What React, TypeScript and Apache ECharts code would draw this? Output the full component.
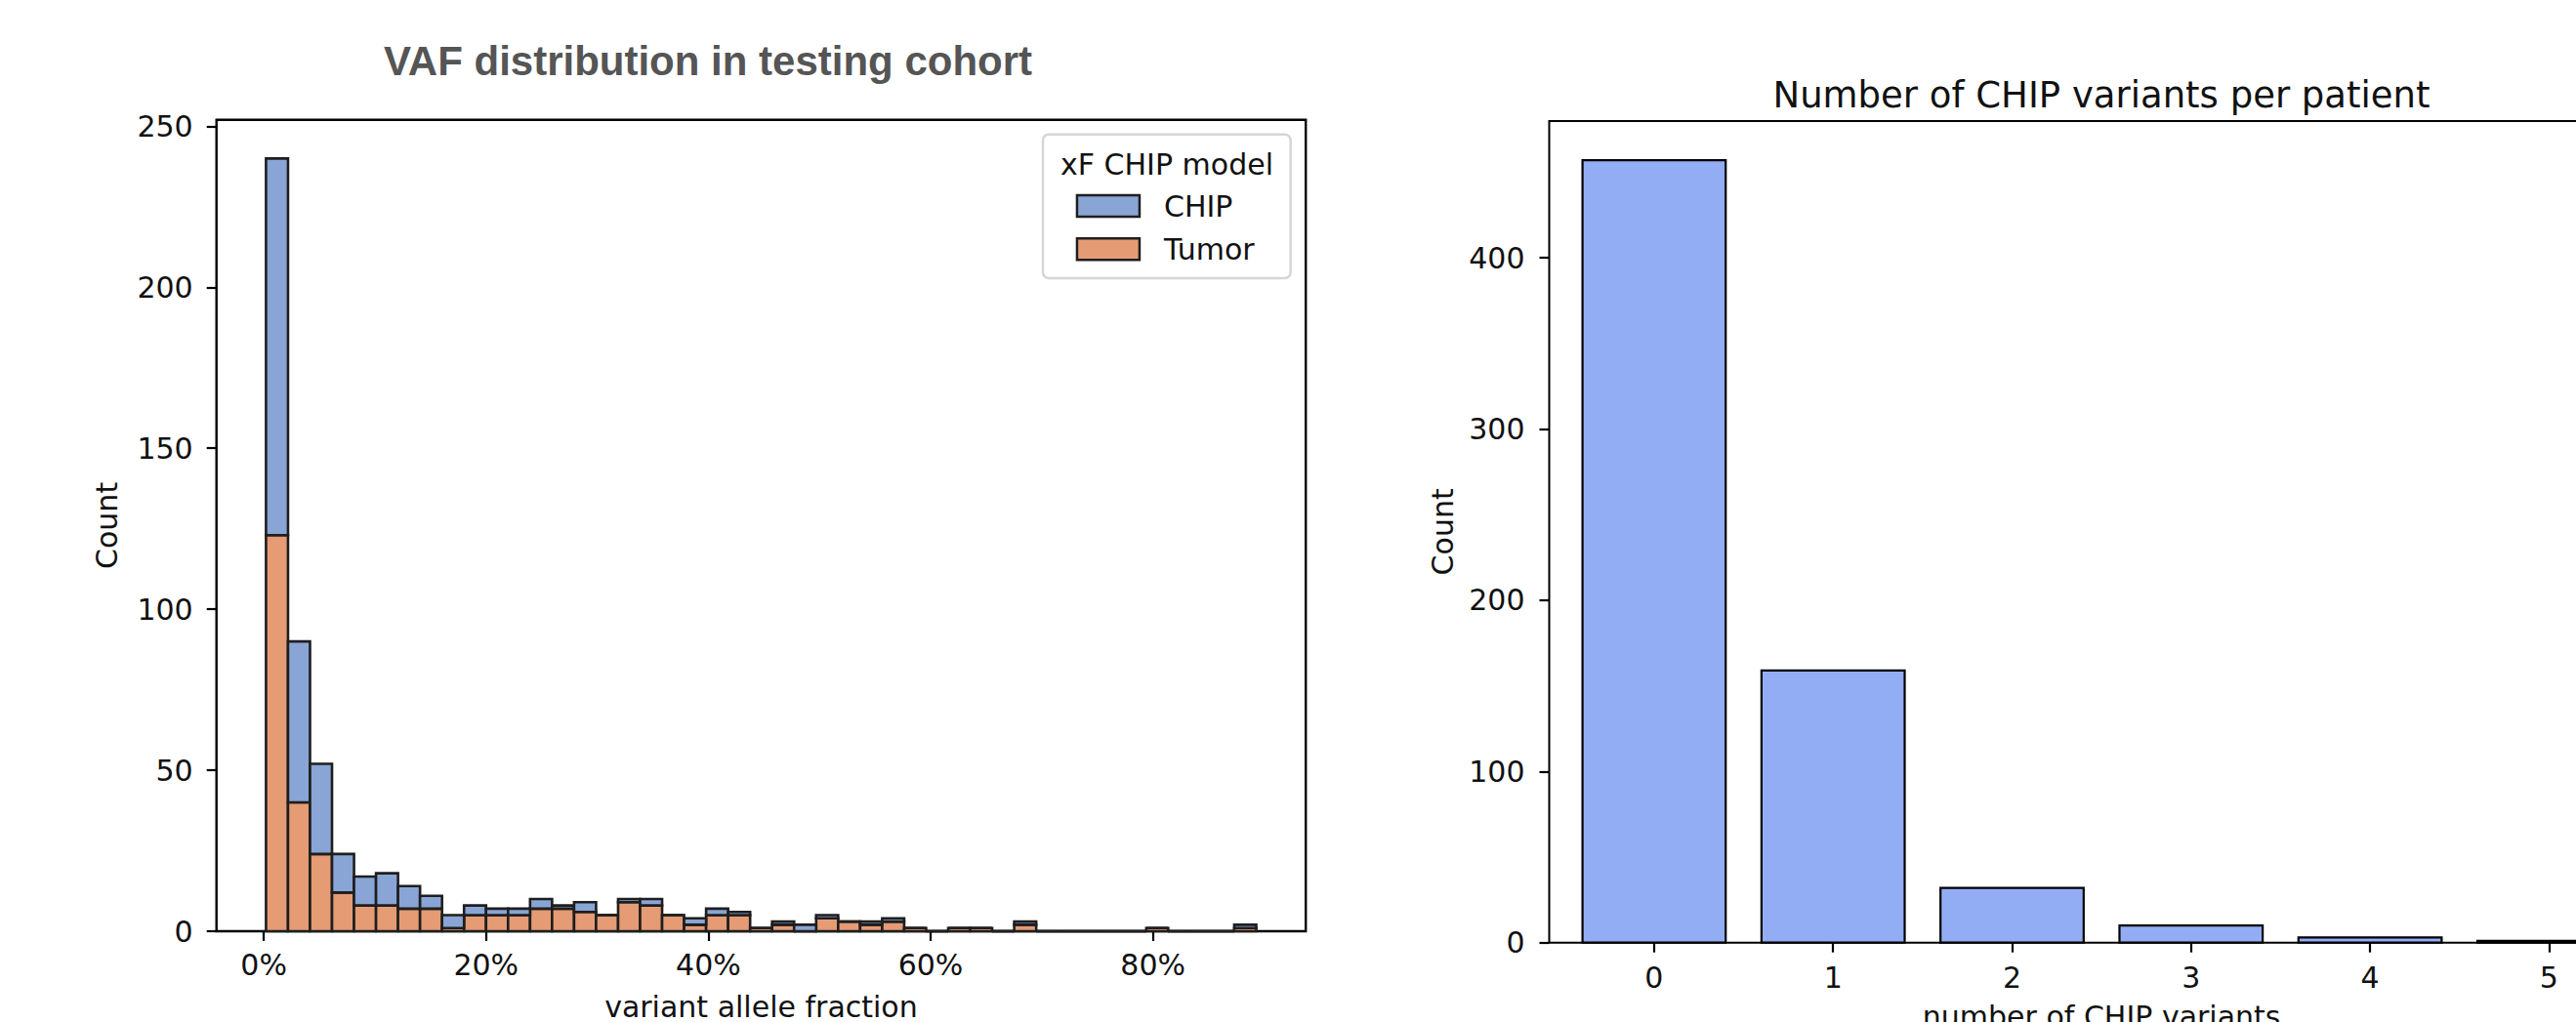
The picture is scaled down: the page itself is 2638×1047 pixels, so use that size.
import React, { useEffect, useRef } from "react";
import * as echarts from "echarts";

// ---------- data: VAF histogram (testing cohort) ----------
const BIN_START = 0.2; // % (first bin left edge)
const BIN_WIDTH = 1.98; // % per bin
const tumorCounts = [
  123, 40, 24, 12, 8, 8, 7, 7, 1, 5, 5, 5, 7, 7, 6, 5, 9, 8, 5, 2, 5, 5, 1, 2, 0,
  4, 3, 2, 3, 1, 0, 1, 1, 0, 2, 0, 0, 0, 0, 0, 1, 0, 0, 0, 1,
];
const chipCounts = [
  117, 50, 28, 12, 9, 10, 7, 4, 4, 3, 2, 2, 3, 1, 3, 0, 1, 2, 0, 2, 2, 1, 0, 1, 2,
  1, 0, 1, 1, 0, 0, 0, 0, 0, 1, 0, 0, 0, 0, 0, 0, 0, 0, 0, 1,
];
const histXTicks = [0, 20, 40, 60, 80];
const histYTicks = [0, 50, 100, 150, 200, 250];

// ---------- data: number of CHIP variants per patient ----------
const variantCounts = [0, 1, 2, 3, 4, 5];
const patientCounts = [457, 159, 32, 10, 3, 1];
const countXTicks = [0, 1, 2, 3, 4, 5];
const countYTicks = [0, 100, 200, 300, 400];

// ---------- style ----------
const BLUE = "#89a5d6";
const ORANGE = "#e59b74";
const BAR_BLUE = "#93adf5";
const EDGE = "#1e1e1e";
const FONT = "DejaVu Sans";
const TXT = "#111";

function buildOption() {
  const tumorData = tumorCounts.map((t, i) => [
    BIN_START + i * BIN_WIDTH,
    BIN_START + (i + 1) * BIN_WIDTH,
    0,
    t,
  ]);
  const chipData = chipCounts.map((c, i) => [
    BIN_START + i * BIN_WIDTH,
    BIN_START + (i + 1) * BIN_WIDTH,
    tumorCounts[i],
    tumorCounts[i] + c,
  ]);
  const barData = variantCounts.map((v, i) => [v, patientCounts[i]]);

  const renderHist = (_p: any, api: any) => {
    const x0 = api.value(0);
    const x1 = api.value(1);
    const y0 = api.value(2);
    const y1 = api.value(3);
    const a = api.coord([x0, y0]);
    const b = api.coord([x1, y1]);
    if (y1 === y0) {
      return {
        type: "line",
        shape: { x1: a[0], y1: a[1], x2: b[0], y2: a[1] },
        style: { stroke: EDGE, lineWidth: 2.6 },
      };
    }
    return {
      type: "rect",
      shape: { x: a[0], y: b[1], width: b[0] - a[0], height: a[1] - b[1] },
      style: { fill: api.visual("color"), stroke: EDGE, lineWidth: 2.6 },
    };
  };

  const renderBar = (_p: any, api: any) => {
    const x = api.value(0);
    const y = api.value(1);
    const a = api.coord([x - 0.4, y]);
    const b = api.coord([x + 0.4, 0]);
    return {
      type: "rect",
      shape: { x: a[0], y: a[1], width: b[0] - a[0], height: b[1] - a[1] },
      style: { fill: BAR_BLUE, stroke: "#000", lineWidth: 2.2 },
    };
  };

  const tickStyle = { show: true, inside: false, length: 10, lineStyle: { color: "#000", width: 2.2 } };
  const noLine = { show: false, onZero: false };

  return {
    animation: false,
    backgroundColor: "#fff",
    title: [
      {
        text: "VAF distribution in testing cohort",
        left: 725,
        top: 41,
        textAlign: "center",
        padding: 0,
        textStyle: {
          fontFamily: "Liberation Sans, Arial, sans-serif",
          fontWeight: "bold",
          fontSize: 42,
          lineHeight: 42,
          color: "#555555",
        },
      },
      {
        text: "Number of CHIP variants per patient",
        left: 2152,
        top: 79,
        textAlign: "center",
        padding: 0,
        textStyle: { fontFamily: FONT, fontWeight: "normal", fontSize: 37, lineHeight: 37, color: TXT },
      },
    ],
    grid: [
      {
        left: 221.7,
        top: 122.8,
        width: 1115.5,
        height: 831.2,
        outerBoundsMode: "none",
        containLabel: false,
        show: true,
        borderColor: "#000",
        borderWidth: 2.4,
        backgroundColor: "transparent",
      },
      {
        left: 1586.5,
        top: 124,
        width: 1131.3,
        height: 841.7,
        outerBoundsMode: "none",
        containLabel: false,
        show: true,
        borderColor: "#000",
        borderWidth: 2,
        backgroundColor: "transparent",
      },
    ],
    xAxis: [
      {
        type: "value",
        gridIndex: 0,
        min: -4.255,
        max: 93.755,
        axisLine: noLine,
        splitLine: { show: false },
        axisTick: { ...tickStyle, customValues: histXTicks },
        axisLabel: {
          customValues: histXTicks,
          formatter: (v: number) => `${v}%`,
          margin: 19,
          fontFamily: FONT,
          fontSize: 30,
          color: TXT,
        },
        name: "variant allele fraction",
        nameLocation: "middle",
        nameGap: 62,
        nameTextStyle: { fontFamily: FONT, fontSize: 30, color: TXT },
      },
      {
        type: "value",
        gridIndex: 1,
        min: -0.586,
        max: 5.586,
        axisLine: noLine,
        splitLine: { show: false },
        axisTick: { ...tickStyle, customValues: countXTicks },
        axisLabel: {
          customValues: countXTicks,
          margin: 21,
          fontFamily: FONT,
          fontSize: 30,
          color: TXT,
        },
        name: "number of CHIP variants",
        nameLocation: "middle",
        nameGap: 61,
        nameTextStyle: { fontFamily: FONT, fontSize: 30, color: TXT },
      },
    ],
    yAxis: [
      {
        type: "value",
        gridIndex: 0,
        min: 0,
        max: 252,
        axisLine: noLine,
        splitLine: { show: false },
        axisTick: { ...tickStyle, customValues: histYTicks },
        axisLabel: {
          customValues: histYTicks,
          margin: 24,
          fontFamily: FONT,
          fontSize: 30,
          color: TXT,
        },
        name: "Count",
        nameLocation: "middle",
        nameRotate: 90,
        nameGap: 97,
        nameTextStyle: { fontFamily: FONT, fontSize: 30, color: TXT },
      },
      {
        type: "value",
        gridIndex: 1,
        min: 0,
        max: 479.85,
        axisLine: noLine,
        splitLine: { show: false },
        axisTick: { ...tickStyle, customValues: countYTicks },
        axisLabel: {
          customValues: countYTicks,
          margin: 25,
          fontFamily: FONT,
          fontSize: 30,
          color: TXT,
        },
        name: "Count",
        nameLocation: "middle",
        nameRotate: 90,
        nameGap: 94,
        nameTextStyle: { fontFamily: FONT, fontSize: 30, color: TXT },
      },
    ],
    legend: {
      orient: "vertical",
      left: 1101.7,
      top: 196,
      padding: 0,
      itemWidth: 64,
      itemHeight: 22,
      itemGap: 14.3,
      selectedMode: false,
      z: 10,
      data: [
        { name: "CHIP", icon: "rect", itemStyle: { color: BLUE, borderColor: EDGE, borderWidth: 2.5 } },
        { name: "Tumor", icon: "rect", itemStyle: { color: ORANGE, borderColor: EDGE, borderWidth: 2.5 } },
      ],
      textStyle: { fontFamily: FONT, fontSize: 30, lineHeight: 30, color: TXT, padding: [0, 0, 0, 20] },
    },
    graphic: [
      {
        type: "rect",
        z: 5,
        shape: { x: 1068, y: 137.7, width: 253.7, height: 147.3, r: 6 },
        style: { fill: "#fff", stroke: "#d6d6d6", lineWidth: 2.5 },
      },
      {
        type: "text",
        z: 6,
        x: 1195,
        y: 168,
        style: {
          text: "xF CHIP model",
          fontFamily: FONT,
          fontSize: 30,
          fill: TXT,
          align: "center",
          verticalAlign: "middle",
          textAlign: "center",
          textVerticalAlign: "middle",
        },
      },
    ],
    series: [
      {
        name: "Tumor",
        type: "custom",
        xAxisIndex: 0,
        yAxisIndex: 0,
        itemStyle: { color: ORANGE },
        encode: { x: [0, 1], y: [2, 3] },
        renderItem: renderHist,
        data: tumorData,
        z: 2,
      },
      {
        name: "CHIP",
        type: "custom",
        xAxisIndex: 0,
        yAxisIndex: 0,
        itemStyle: { color: BLUE },
        encode: { x: [0, 1], y: [2, 3] },
        renderItem: renderHist,
        data: chipData,
        z: 3,
      },
      {
        name: "patients",
        type: "custom",
        xAxisIndex: 1,
        yAxisIndex: 1,
        encode: { x: 0, y: 1 },
        renderItem: renderBar,
        data: barData,
        z: 2,
      },
    ],
  };
}

export default function App() {
  const ref = useRef<HTMLDivElement>(null);
  useEffect(() => {
    if (!ref.current) return;
    const chart = echarts.init(ref.current, undefined, { renderer: "svg" });
    chart.setOption(buildOption() as any);
    return () => chart.dispose();
  }, []);
  return (
    <div
      ref={ref}
      style={{ position: "fixed", left: 0, top: 0, width: 2638, height: 1047, background: "#fff" }}
    />
  );
}
